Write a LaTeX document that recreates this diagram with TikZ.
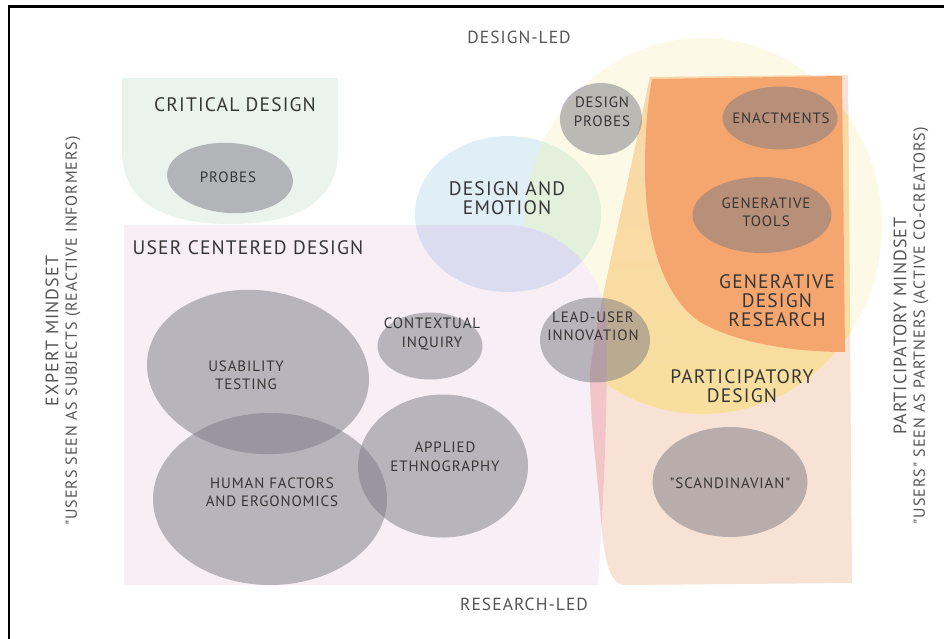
\documentclass[tikz,border=0pt]{standalone}
\usepackage{fontspec}
\setmainfont{PT Sans}
\newfontfamily\lblfont[LetterSpace=6]{PT Sans}
\usetikzlibrary{shapes.geometric}
\definecolor{txt}{HTML}{363636}
\definecolor{axc}{HTML}{555555}
\definecolor{mint}{HTML}{EAF3EE}
\definecolor{ucd}{HTML}{F7EEF6}
\definecolor{paleyel}{HTML}{FCFAE7}
\definecolor{peach}{HTML}{F8E2D5}
\definecolor{lorangetop}{HTML}{FAD6A9}
\definecolor{lorangebot}{HTML}{F8DF9E}
\definecolor{gdr}{HTML}{F5A66F}
\definecolor{deblue}{HTML}{E0EEF6}
\definecolor{degreen}{HTML}{E3F0DC}
\definecolor{delav}{HTML}{DCDCF0}
\definecolor{redband}{HTML}{F2C6C8}
\definecolor{blobc}{HTML}{7C7982}
\tikzset{
  blob/.style={ellipse, fill=blobc, fill opacity=0.5, draw=none, inner sep=0pt},
  lbl/.style={text=txt, align=center, font=\lblfont\fontsize{15}{18.5}\selectfont, inner sep=0pt},
  biglbl/.style={text=txt, align=center, font=\lblfont\fontsize{19.5}{19}\selectfont, inner sep=0pt},
  axislbl/.style={text=axc, align=center, font=\lblfont\fontsize{17.5}{20}\selectfont, inner sep=0pt},
  sidelbl/.style={text=axc, align=center, font=\lblfont\fontsize{16}{18}\selectfont, inner sep=0pt, rotate=90},
  sidebig/.style={sidelbl, font=\lblfont\fontsize{18}{18}\selectfont},
}
\def\peachpath{(650,77) -- (848,75) -- (852,583) -- (625,585) .. controls (610,585) and (604,560) .. (601,520) .. controls (597,470) and (590,420) .. (590,373) .. controls (595,320) and (625,200) .. (650,77) -- cycle}
\def\yelpath{(703,226) ellipse [x radius=179, y radius=188]}
\def\ucdpath{(124,225) -- (505,225) .. controls (560,225) and (607,270) .. (607,330) .. controls (607,450) and (602,520) .. (598,585) -- (124,585) -- cycle}
\def\depath{(508,214) ellipse [x radius=93, y radius=78]}
\begin{document}
\begin{tikzpicture}[x=1pt,y=-1pt]
\useasboundingbox (0,0) rectangle (944,639);
\fill[white] (0,0) rectangle (944,639);

% participatory regions
\fill[paleyel] \yelpath;
\fill[peach] \peachpath;
\begin{scope}
  \clip \peachpath;
  \clip \yelpath;
  \shade[top color=lorangetop, bottom color=lorangebot] (580,38) rectangle (890,415);
\end{scope}
\fill[gdr] (652,79) -- (842,76) -- (845,352) .. controls (800,352) and (740,345) .. (700,322) .. controls (660,295) and (645,230) .. (645,170) .. controls (645,130) and (648,100) .. (652,79) -- cycle;

% critical design
\fill[mint] (122,78) -- (338,78) -- (338,150) .. controls (338,200) and (300,224) .. (230,224) .. controls (160,224) and (122,200) .. (122,150) -- cycle;

% user centered design
\fill[ucd] \ucdpath;
\begin{scope}
  \clip \ucdpath;
  \fill[redband] \peachpath;
\end{scope}

% design and emotion
\fill[deblue] \depath;
\begin{scope}
  \clip \depath;
  \fill[degreen] \yelpath;
  \fill[delav] \ucdpath;
\end{scope}

% blobs
\node[blob, minimum width=126, minimum height=70, rotate=-4] (probes) at (230,178) {};
\node[blob, minimum width=82, minimum height=72] (dprobes) at (601,119) {};
\node[blob, minimum width=115, minimum height=63] (enact) at (780,118) {};
\node[blob, minimum width=139, minimum height=76] (gtools) at (762,215) {};
\node[blob, minimum width=110, minimum height=85] (lead) at (595,340) {};
\node[blob, minimum width=105, minimum height=67] (ctx) at (430,346) {};
\node[blob, minimum width=223, minimum height=163, rotate=-8] (usab) at (258,372) {};
\node[blob, minimum width=234, minimum height=172] (hf) at (270,499) {};
\node[blob, minimum width=170, minimum height=143] (ethno) at (443,466) {};
\node[blob, minimum width=155, minimum height=110] (scand) at (730,482) {};

% labels
\node[lbl] (tprobes) at (228,177) {PROBES};
\node[lbl] (tdprobes) at (602,112) {DESIGN\\PROBES};
\node[lbl] (tenact) at (781,118) {ENACTMENTS};
\node[lbl] (tgtools) at (766,212) {GENERATIVE\\TOOLS};
\node[lbl] (tlead) at (593,326) {LEAD-USER\\INNOVATION};
\node[lbl] (tctx) at (432,334) {CONTEXTUAL\\INQUIRY};
\node[lbl] (tusab) at (246,375) {USABILITY\\TESTING};
\node[lbl] (thf) at (272,492) {HUMAN FACTORS\\AND ERGONOMICS};
\node[lbl] (tethno) at (445,457) {APPLIED\\ETHNOGRAPHY};
\node[lbl] (tscand) at (730,483) {"SCANDINAVIAN"};

\node[biglbl] (tcrit) at (235,105) {CRITICAL DESIGN};
\node[biglbl] (tucd) at (248,248) {USER CENTERED DESIGN};
\node[biglbl] (tde) at (507,198) {DESIGN AND\\EMOTION};
\node[biglbl] (tgdr) at (777,301) {GENERATIVE\\DESIGN\\RESEARCH};
\node[biglbl] (tpd) at (742,386) {PARTICIPATORY\\DESIGN};

\node[axislbl] (dled) at (519,37) {DESIGN-LED};
\node[axislbl] (rled) at (524,604) {RESEARCH-LED};

\node[sidebig] (exp1) at (52,331) {EXPERT MINDSET};
\node[sidelbl] (exp2) at (73,331) {"USERS SEEN AS SUBJECTS (REACTIVE INFORMERS)};
\node[sidebig] (par1) at (900,326) {PARTICIPATORY MINDSET};
\node[sidelbl] (par2) at (921,326) {"USERS" SEEN AS PARTNERS (ACTIVE CO-CREATORS)};

% frame
\draw[line width=2.5pt, black] (9,639) -- (9,6.5) -- (944,6.5);
\end{tikzpicture}
\end{document}
